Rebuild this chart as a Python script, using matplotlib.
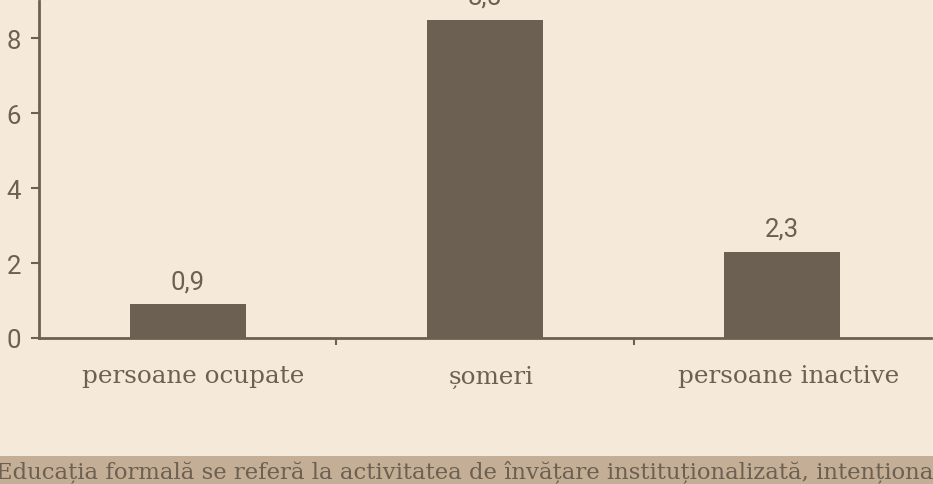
import matplotlib
matplotlib.use("Agg")
from matplotlib import pyplot as plt
from matplotlib.patches import Rectangle
from matplotlib.transforms import ScaledTranslation

categories = ["persoane ocupate", "șomeri", "persoane inactive"]
values = [0.9, 8.5, 2.3]
value_labels = ["0,9", "8,5", "2,3"]
yticks = [0, 2, 4, 6, 8]
note = ("Educația formală se referă la activitatea de învățare "
        "instituționalizată, intenționată și planificată")

bg = "#f5eada"
ink = "#6b6052"
band = "#c5ae96"

fig = plt.figure(figsize=(9.33, 4.85), dpi=100, facecolor=bg)
ax = fig.add_axes([39/933, 1 - 339/485, (931 - 39)/933, 337/485])
ax.set_facecolor(bg)

x = list(range(len(categories)))
ax.bar(x, values, width=0.39, color=ink, zorder=2)

for xi, v, lab in zip(x, values, value_labels):
    ax.annotate(lab, (xi, v), xytext=(0, 8), textcoords="offset points",
                ha="center", va="bottom", fontsize=18.5, color=ink,
                family="Roboto", annotation_clip=False)

ax.set_xlim(-0.5, 2.5)
ax.set_ylim(0, 9)
ax.set_yticks(yticks)
ax.set_yticklabels([str(t) for t in yticks], family="Roboto", fontsize=18.5, color=ink)
ax.set_xticks(x)
ax.set_xticklabels(categories, family="DejaVu Serif", fontsize=17.7, color=ink)
ax.set_xticks([0.5, 1.5], minor=True)
ax.tick_params(axis="x", which="major", length=0, pad=19)
ax.tick_params(axis="x", which="minor", length=5, width=1.5, color=ink)
ax.tick_params(axis="y", length=6, width=1.5, color=ink, pad=7)

# category labels sit a little right of the bar centres in the original
shift = ScaledTranslation(0.06, 0, fig.dpi_scale_trans)
for lbl in ax.get_xticklabels():
    lbl.set_transform(lbl.get_transform() + shift)

for s in ["top", "right"]:
    ax.spines[s].set_visible(False)
for s in ["left", "bottom"]:
    ax.spines[s].set_color(ink)
    ax.spines[s].set_linewidth(2)

# bottom note strip (text runs past the right edge, as in the original)
fig.patches.append(Rectangle((0, 0), 1, 28/485, transform=fig.transFigure,
                             facecolor=band, edgecolor="none", zorder=0))
fig.text(-0.004, 6/485, note, family="DejaVu Serif", fontsize=16.4,
         color=ink, ha="left", va="baseline")

fig.savefig("out.png", dpi=100, facecolor=bg)
